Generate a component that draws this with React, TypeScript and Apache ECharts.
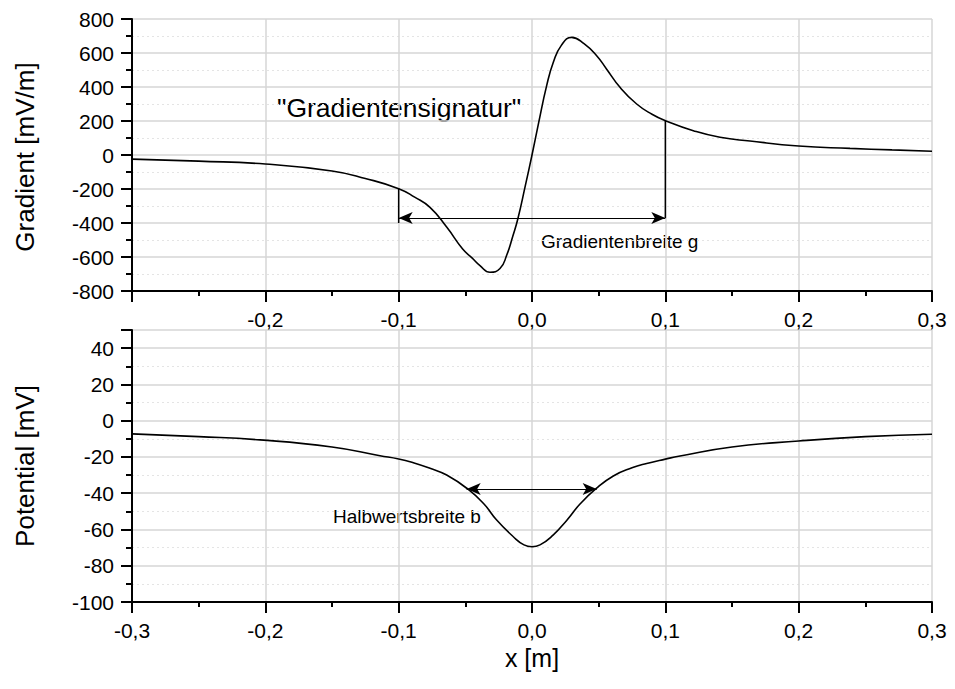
import React, { useEffect, useRef } from "react";
import * as echarts from "echarts";

// Gradient curve (x in m, gradient in mV/m)
const gradX = [-0.3, -0.25, -0.2, -0.15, -0.125, -0.1, -0.088, -0.0765, -0.064, -0.052, -0.045, -0.039, -0.0315, -0.024, -0.019, -0.0143, -0.0105, -0.005, 0, 0.005, 0.011, 0.016, 0.022, 0.0298, 0.039, 0.0485, 0.056, 0.066, 0.0785, 0.09, 0.1, 0.121, 0.141, 0.1635, 0.2, 0.2385, 0.27, 0.3];
const gradY = [-24, -36, -53, -94, -138, -198, -248, -308, -424, -553, -605, -651, -690, -668, -590, -475, -372, -180, 0, 190, 408, 545, 645, 692, 655, 584, 505, 398, 300, 240, 202, 143, 104, 82, 53, 39, 30, 22];

// Potential curve (x in m, potential in mV)
const potX = [-0.3, -0.25, -0.204, -0.15, -0.114, -0.1, -0.089, -0.0765, -0.064, -0.048, -0.036, -0.0265, -0.014, -0.006, 0, 0.006, 0.016, 0.026, 0.036, 0.048, 0.061, 0.075, 0.086, 0.1, 0.111, 0.15, 0.2, 0.25, 0.3];
const potY = [-7.3, -8.8, -10.6, -14.5, -19.3, -21.1, -23.2, -26.3, -30, -37.8, -46, -54.8, -64, -68.5, -69.5, -68.5, -63, -55, -46, -37.5, -30.5, -26, -23.6, -21.2, -19.5, -14.5, -11.2, -8.8, -7.5];

// Annotation geometry (data coordinates)
const gradVLeft = [[-0.1, -195], [-0.1, -400]];
const gradVRight = [[0.1, 200], [0.1, -370]];
const gradArrow = [[-0.1, -370], [0.1, -370]];
const potArrow = [[-0.049, -37.7], [0.0485, -37.7]];

const xTicks = { min: -0.3, max: 0.3, interval: 0.1 };
const gradTicks = { min: -800, max: 800, interval: 200 };
const potTicks = { min: -100, max: 50, interval: 20 };

const FONT = "Liberation Sans, Arial, sans-serif";

function fmtX(v: number) {
  if (Math.abs(v) < 1e-9) return "0,0";
  return v.toFixed(1).replace(".", ",");
}

export default function App() {
  const ref = useRef<HTMLDivElement>(null);
  useEffect(() => {
    if (!ref.current) return;
    const chart = echarts.init(ref.current, undefined, { renderer: "svg" });
    const axisLine = { show: true, onZero: false, lineStyle: { color: "#000", width: 2 } };
    const splitLine = { show: true, lineStyle: { color: "#d6d6d6", width: 1.5 } };
    const minorSplit = { show: true, lineStyle: { color: "#e4e4e4", width: 1, type: [2, 3] as any } };
    const mkX = (idx: number, hideFirst: boolean) => ({
      type: "value",
      gridIndex: idx,
      min: xTicks.min,
      max: xTicks.max,
      interval: xTicks.interval,
      axisLine,
      axisTick: { show: true, length: 11, lineStyle: { color: "#000", width: 2 } },
      minorTick: { show: true, splitNumber: 2, length: 5, lineStyle: { color: "#000", width: 2 } },
      splitLine,
      minorSplitLine: { show: false },
      axisLabel: {
        color: "#000",
        fontSize: 21,
        fontFamily: FONT,
        margin: 18,
        formatter: (v: number) => (hideFirst && Math.abs(v + 0.3) < 1e-6 ? "" : fmtX(v)),
      },
    });
    const mkY = (idx: number, t: { min: number; max: number; interval: number }) => ({
      type: "value",
      gridIndex: idx,
      min: t.min,
      max: t.max,
      interval: t.interval,
      axisLine,
      axisTick: { show: true, length: 11, lineStyle: { color: "#000", width: 2 } },
      minorTick: { show: true, splitNumber: 2, length: 6, lineStyle: { color: "#000", width: 2 } },
      splitLine,
      minorSplitLine: minorSplit,
      axisLabel: { color: "#000", fontSize: 21, fontFamily: FONT, margin: 18 },
    });
    const zip = (xs: number[], ys: number[]) => xs.map((x, i) => [x, ys[i]]);
    const thin = (data: number[][], idx: number) => ({
      type: "line",
      xAxisIndex: idx,
      yAxisIndex: idx,
      data,
      symbol: "none",
      silent: true,
      lineStyle: { color: "#000", width: 1.5 },
    });
    const arrow = (pts: number[][], idx: number) => ({
      type: "line",
      xAxisIndex: idx,
      yAxisIndex: idx,
      data: [],
      silent: true,
      markLine: {
        silent: true,
        symbol: ["arrow", "arrow"],
        symbolSize: [9, 14],
        label: { show: false },
        lineStyle: { color: "#000", width: 1.2, type: "solid" },
        emphasis: { disabled: true },
        data: [[{ coord: pts[0] }, { coord: pts[1] }]],
      },
    });
    const curve = (xs: number[], ys: number[], idx: number) => ({
      type: "line",
      xAxisIndex: idx,
      yAxisIndex: idx,
      data: zip(xs, ys),
      symbol: "none",
      smooth: 0.5,
      silent: true,
      lineStyle: { color: "#000", width: 1.6 },
    });
    chart.setOption({
      animation: false,
      backgroundColor: "#fff",
      grid: [
        { left: 132, top: 19, width: 800, height: 272 },
        { left: 132, top: 330, width: 800, height: 272 },
      ],
      xAxis: [mkX(0, true), mkX(1, false)],
      yAxis: [mkY(0, gradTicks), mkY(1, potTicks)],
      series: [
        curve(gradX, gradY, 0),
        curve(potX, potY, 1),
        thin(gradVLeft, 0),
        thin(gradVRight, 0),
        arrow(gradArrow, 0),
        arrow(potArrow, 1),
      ],
      graphic: [
        {
          type: "text",
          x: 25,
          y: 157,
          rotation: Math.PI / 2,
          style: { text: "Gradient [mV/m]", font: `26px ${FONT}`, fill: "#000", align: "center", verticalAlign: "middle" },
        },
        {
          type: "text",
          x: 25,
          y: 466,
          rotation: Math.PI / 2,
          style: { text: "Potential [mV]", font: `26px ${FONT}`, fill: "#000", align: "center", verticalAlign: "middle" },
        },
        {
          type: "text",
          x: 532,
          y: 658,
          style: { text: "x [m]", font: `25px ${FONT}`, fill: "#000", align: "center", verticalAlign: "middle" },
        },
        {
          type: "text",
          x: 277,
          y: 108,
          style: { text: '"Gradientensignatur"', font: `26.5px ${FONT}`, fill: "#000", align: "left", verticalAlign: "middle" },
        },
        {
          type: "text",
          x: 541,
          y: 241,
          style: { text: "Gradientenbreite g", font: `19px ${FONT}`, fill: "#000", align: "left", verticalAlign: "middle" },
        },
        {
          type: "text",
          x: 333,
          y: 516,
          style: { text: "Halbwertsbreite b", font: `19px ${FONT}`, fill: "#000", align: "left", verticalAlign: "middle" },
        },
      ],
    });
    return () => chart.dispose();
  }, []);
  return <div ref={ref} style={{ position: "fixed", left: 0, top: 0, width: 955, height: 689, background: "#fff" }} />;
}
